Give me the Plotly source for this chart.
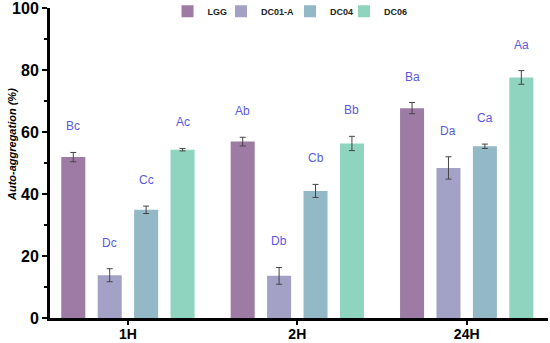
import plotly.graph_objects as go

categories = ["1H", "2H", "24H"]
series_names = ["LGG", "DC01-A", "DC04", "DC06"]
values = {
    "LGG":    [51.9, 56.9, 67.7],
    "DC01-A": [13.8, 13.6, 48.4],
    "DC04":   [34.9, 41.0, 55.4],
    "DC06":   [54.3, 56.3, 77.6],
}
errors = {
    "LGG":    [1.5, 1.4, 1.8],
    "DC01-A": [2.1, 2.7, 3.6],
    "DC04":   [1.2, 2.1, 0.7],
    "DC06":   [0.4, 2.3, 2.2],
}
letters = {
    "LGG":    ["Bc", "Ab", "Ba"],
    "DC01-A": ["Dc", "Db", "Da"],
    "DC04":   ["Cc", "Cb", "Ca"],
    "DC06":   ["Ac", "Bb", "Aa"],
}
colors = {
    "LGG": "#9e7ba4",
    "DC01-A": "#a3a2c6",
    "DC04": "#93b9c6",
    "DC06": "#8fd4bf",
}
legend_x = [0.236, 0.3434, 0.4819, 0.5904]

bargap = 0.14
bargroupgap = 0.34
FONT = "Liberation Sans, Arial"

fig = go.Figure()
for k, name in enumerate(series_names):
    fig.add_trace(go.Bar(
        name=name, x=categories, y=values[name],
        marker=dict(color=colors[name], line=dict(width=0)),
        error_y=dict(type="data", array=errors[name], color="#444444",
                     thickness=1, width=3),
        legend="legend" if k == 0 else f"legend{k+1}",
    ))

slot = (1 - bargap) / len(series_names)
for i, name in enumerate(series_names):
    for j, cat in enumerate(categories):
        fig.add_annotation(
            x=j + (i - (len(series_names) - 1) / 2) * slot,
            y=values[name][j] + errors[name][j],
            xref="x", yref="y", text=letters[name][j], showarrow=False,
            yanchor="bottom", yshift=17,
            font=dict(family=FONT, size=12, color="#5a5ae0"),
        )

fig.add_annotation(
    text="<i>Auto-aggregation (%)</i>", textangle=-90, showarrow=False,
    xref="paper", yref="paper", x=-0.0763, y=0.558,
    xanchor="center", yanchor="middle",
    font=dict(family=FONT, size=11, color="black", weight="bold"),
)

legend_common = dict(orientation="h", y=1.036, xanchor="left", yanchor="top",
                     font=dict(family=FONT, size=9, color="#222", weight="bold"),
                     bgcolor="rgba(0,0,0,0)", itemwidth=30)
legends = {}
for k, lx in enumerate(legend_x):
    key = "legend" if k == 0 else f"legend{k+1}"
    legends[key] = dict(legend_common, x=lx)

fig.update_layout(
    width=550, height=343,
    margin=dict(l=50, r=2, t=8, b=25, autoexpand=False),
    plot_bgcolor="white", paper_bgcolor="white",
    barmode="group", bargap=bargap, bargroupgap=bargroupgap,
    showlegend=True,
    xaxis=dict(
        range=[-0.46, 2.48], showline=True, linecolor="black", linewidth=3,
        ticks="outside", ticklen=4, tickwidth=2, tickcolor="black",
        ticklabelstandoff=-3,
        tickfont=dict(family=FONT, size=14, color="black", weight="bold"),
        showgrid=False, zeroline=False,
    ),
    yaxis=dict(
        range=[0, 100], showline=True, linecolor="black", linewidth=3,
        tickvals=[0, 20, 40, 60, 80, 100], ticklabeloverflow="allow",
        ticks="outside", ticklen=5, tickwidth=2, tickcolor="black",
        minor=dict(tickvals=[10, 30, 50, 70, 90], ticks="outside", ticklen=3,
                   tickwidth=2, tickcolor="black"),
        tickfont=dict(family=FONT, size=16, color="black", weight="bold"),
        showgrid=False, zeroline=False,
    ),
    **legends,
)

fig.write_html("out.html", config={"displayModeBar": False},
               post_script="document.body.style.margin='0';document.body.style.overflow='hidden';")
